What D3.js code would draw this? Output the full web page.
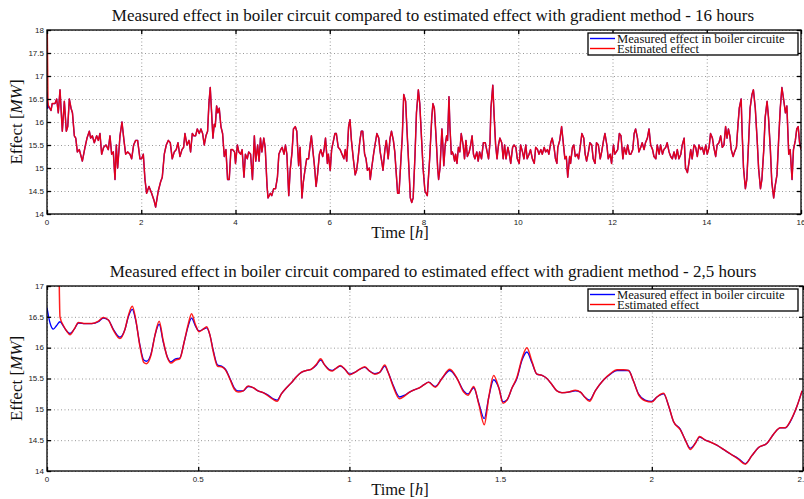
<!DOCTYPE html>
<html lang="en">
<meta charset="utf-8">
<head>
    <script src='https://d3js.org/d3.v7.min.js'></script>
</head>
<body style="margin:0;background:#fff">
<div id="chart"></div>

<style>
	svg text.tick-label {
	font: 8px "Liberation Sans", Arial, sans-serif;
	fill: #222;
	}
	svg text.serif {
	font-family: "Liberation Serif", "Times New Roman", serif;
	fill: #111;
	}
</style>

<script>
// 16 hour run: time [h] and measured effect [MW]
var topTime = [0, 0.015, 0.03, 0.085, 0.11, 0.17, 0.205, 0.24, 0.276, 0.325, 0.368, 0.41, 0.44, 0.474, 0.51, 0.54, 0.58, 0.61, 0.644, 0.686,
    0.75, 0.806, 0.849, 0.898, 0.926, 0.962, 1.004, 1.054, 1.089, 1.124, 1.16, 1.202, 1.252, 1.301, 1.336, 1.372, 1.407, 1.443, 1.471, 1.499,
    1.549, 1.591, 1.633, 1.669, 1.711, 1.761, 1.796, 1.838, 1.881, 1.923, 1.973, 2.008, 2.044, 2.079, 2.114, 2.164, 2.22, 2.27, 2.305, 2.361,
    2.411, 2.446, 2.489, 2.531, 2.574, 2.616, 2.658, 2.701, 2.743, 2.779, 2.821, 2.864, 2.899, 2.927, 2.97, 3.012, 3.047, 3.083, 3.118, 3.153,
    3.189, 3.231, 3.266, 3.302, 3.337, 3.373, 3.408, 3.436, 3.464, 3.493, 3.521, 3.549, 3.57, 3.599, 3.627, 3.655, 3.691, 3.726, 3.762, 3.797,
    3.832, 3.867, 3.903, 3.938, 3.98, 4.0, 4.04, 4.07, 4.11, 4.14, 4.18, 4.21, 4.25, 4.28, 4.32, 4.36, 4.40, 4.43, 4.47, 4.50,
    4.53, 4.56, 4.60, 4.63, 4.67, 4.69, 4.74, 4.77, 4.81, 4.85, 4.89, 4.92, 4.96, 4.99, 5.03, 5.06, 5.09, 5.13, 5.16, 5.20,
    5.23, 5.27, 5.30, 5.34, 5.37, 5.41, 5.44, 5.48, 5.51, 5.55, 5.59, 5.61, 5.64, 5.68, 5.71, 5.74, 5.78, 5.81, 5.85, 5.88,
    5.91, 5.95, 5.97, 6.01, 6.04, 6.08, 6.11, 6.14, 6.18, 6.22, 6.26, 6.30, 6.33, 6.36, 6.40, 6.43, 6.46, 6.50, 6.54, 6.57,
    6.60, 6.64, 6.67, 6.70, 6.74, 6.77, 6.80, 6.84, 6.86, 6.89, 6.93, 6.96, 7.00, 7.04, 7.07, 7.11, 7.13, 7.17, 7.20, 7.24,
    7.28, 7.31, 7.35, 7.38, 7.41, 7.44, 7.47, 7.50, 7.54, 7.57, 7.61, 7.64, 7.68, 7.71, 7.74, 7.77, 7.81, 7.84, 7.88, 7.91,
    7.95, 7.98, 8.02, 8.07, 8.12, 8.165, 8.19, 8.22, 8.26, 8.29, 8.31, 8.34, 8.38, 8.40, 8.42, 8.45, 8.48, 8.50, 8.53, 8.55,
    8.58, 8.60, 8.62, 8.65, 8.67, 8.70, 8.73, 8.76, 8.79, 8.83, 8.86, 8.89, 8.92, 8.96, 8.99, 9.02, 9.05, 9.08, 9.12, 9.15,
    9.18, 9.22, 9.26, 9.30, 9.33, 9.37, 9.40, 9.42, 9.46, 9.49, 9.52, 9.55, 9.58, 9.61, 9.65, 9.68, 9.71, 9.74, 9.78, 9.81,
    9.84, 9.88, 9.91, 9.95, 9.98, 10.02, 10.05, 10.09, 10.12, 10.16, 10.19, 10.23, 10.26, 10.30, 10.34, 10.37, 10.41, 10.44, 10.48, 10.51,
    10.55, 10.58, 10.62, 10.65, 10.69, 10.72, 10.76, 10.79, 10.82, 10.84, 10.88, 10.92, 10.95, 10.99, 11.02, 11.05, 11.09, 11.11, 11.15, 11.18,
    11.21, 11.25, 11.28, 11.32, 11.35, 11.39, 11.42, 11.45, 11.49, 11.52, 11.56, 11.59, 11.63, 11.66, 11.70, 11.74, 11.77, 11.81, 11.84, 11.88,
    11.91, 11.95, 11.98, 12.02, 12.05, 12.11, 12.145, 12.18, 12.22, 12.25, 12.29, 12.32, 12.36, 12.39, 12.43, 12.46, 12.49, 12.53, 12.56, 12.60,
    12.63, 12.67, 12.70, 12.74, 12.775, 12.81, 12.85, 12.88, 12.92, 12.95, 12.99, 13.02, 13.06, 13.09, 13.13, 13.16, 13.20, 13.235, 13.27, 13.305,
    13.34, 13.375, 13.41, 13.45, 13.48, 13.52, 13.55, 13.59, 13.62, 13.66, 13.69, 13.73, 13.765, 13.80, 13.835, 13.87, 13.905, 13.94, 13.98, 14.01,
    14.05, 14.08, 14.12, 14.15, 14.19, 14.22, 14.26, 14.295, 14.33, 14.365, 14.40, 14.43, 14.46, 14.49, 14.52, 14.56, 14.59, 14.63, 14.66, 14.69,
    14.73, 14.75, 14.78, 14.82, 14.85, 14.89, 14.92, 14.96, 14.99, 15.03, 15.07, 15.10, 15.14, 15.17, 15.21, 15.24, 15.28, 15.31, 15.35, 15.38,
    15.42, 15.45, 15.49, 15.525, 15.56, 15.595, 15.63, 15.67, 15.70, 15.74, 15.77, 15.81, 15.84, 15.88, 15.91, 15.94, 15.97, 16.0];
var topMeasured = [16.65, 16.3, 16.35, 16.25, 16.4, 16.4, 16.5, 16.2, 16.7, 15.8, 16.45, 15.8, 15.9, 16.5, 16.3, 16.2, 15.7, 15.65, 15.35, 15.4,
    15.15, 15.45, 15.65, 15.8, 15.65, 15.7, 15.55, 15.7, 15.6, 15.75, 15.3, 15.45, 15.5, 15.4, 15.7, 15.3, 15.35, 14.75, 15.5, 15.0,
    15.7, 16.0, 15.6, 15.3, 15.35, 15.3, 15.2, 15.5, 15.6, 15.6, 15.2, 15.2, 15.3, 14.75, 14.45, 14.6, 14.45, 14.3, 14.15, 14.5,
    14.7, 14.8, 15.3, 15.5, 15.6, 15.55, 15.2, 15.35, 15.4, 15.55, 15.25, 15.4, 15.45, 15.75, 15.5, 15.6, 15.35, 15.75, 15.7, 15.7,
    15.85, 15.75, 15.85, 15.75, 15.5, 15.7, 15.8, 16.4, 16.75, 16.2, 15.65, 15.95, 15.9, 16.35, 16.2, 16.3, 15.9, 15.75, 15.25, 15.4,
    14.75, 14.75, 15.4, 15.4, 15.35, 15.1, 15.5, 15.35, 15.3, 15.4, 14.8, 15.3, 15.2, 15.35, 15.3, 14.75, 15.7, 15.15, 15.5, 15.15,
    15.65, 15.35, 15.65, 15.45, 14.6, 14.35, 14.45, 14.4, 14.55, 14.55, 14.8, 15.3, 15.4, 15.45, 15.3, 15.5, 15.3, 14.4, 14.95, 15.35,
    15.85, 15.9, 15.8, 15.05, 15.45, 14.35, 14.7, 15.0, 15.2, 15.2, 15.55, 15.7, 15.4, 15.0, 14.6, 14.85, 15.3, 15.4, 15.25, 15.4,
    15.65, 15.1, 15.3, 14.95, 15.4, 15.6, 15.75, 15.75, 15.45, 15.4, 15.3, 15.2, 15.4, 15.15, 15.9, 16.05, 15.6, 15.2, 14.85, 14.95,
    15.2, 15.6, 15.8, 15.8, 15.3, 15.2, 14.95, 15.0, 14.75, 15.0, 15.3, 15.5, 15.75, 15.65, 15.35, 15.1, 14.95, 15.4, 15.6, 15.2,
    15.65, 15.8, 15.6, 15.35, 14.9, 14.45, 14.45, 15.0, 15.7, 16.6, 16.45, 15.8, 15.0, 14.35, 14.25, 14.35, 15.3, 16.2, 16.7, 16.4,
    15.6, 15.0, 14.5, 14.4, 15.2, 16.1, 16.4, 16.3, 15.6, 15.0, 14.75, 15.0, 15.85, 15.5, 15.05, 15.5, 15.7, 15.6, 16.55, 15.9,
    15.3, 15.35, 15.3, 15.15, 15.3, 15.1, 15.45, 15.35, 15.75, 15.5, 15.2, 15.6, 15.25, 15.35, 15.5, 15.7, 15.3, 15.2, 15.35, 15.15,
    15.35, 15.2, 15.55, 15.55, 15.4, 15.2, 15.55, 16.3, 16.8, 16.1, 15.5, 15.2, 15.5, 15.65, 15.55, 15.2, 15.5, 15.2, 15.45, 15.3,
    15.1, 15.45, 15.5, 15.45, 15.2, 15.1, 15.5, 15.35, 15.2, 15.5, 15.2, 15.3, 15.4, 15.2, 15.1, 15.45, 15.4, 15.3, 15.4, 15.3,
    15.45, 15.35, 15.4, 15.3, 15.55, 15.65, 15.45, 15.2, 15.1, 15.45, 15.6, 15.9, 15.6, 15.2, 15.25, 14.8, 15.25, 15.1, 15.45, 15.5,
    15.25, 15.3, 15.2, 15.5, 15.75, 15.65, 15.3, 15.15, 15.35, 15.55, 15.5, 15.2, 15.1, 15.55, 15.5, 15.2, 15.35, 15.6, 15.75, 15.5,
    15.2, 15.3, 15.1, 15.5, 15.3, 15.4, 15.75, 15.7, 15.2, 15.45, 15.3, 15.5, 15.3, 15.3, 15.4, 15.75, 15.85, 15.65, 15.35, 15.45,
    15.55, 15.4, 15.55, 15.65, 15.85, 15.5, 15.4, 15.25, 15.2, 15.5, 15.3, 15.5, 15.3, 15.4, 15.45, 15.55, 15.35, 15.25, 15.2, 15.35,
    15.2, 15.4, 15.2, 15.3, 15.5, 15.65, 15.0, 14.9, 15.1, 15.4, 15.2, 15.5, 15.45, 15.25, 15.5, 15.4, 15.45, 15.3, 15.5, 15.3,
    15.45, 15.75, 15.65, 15.45, 15.25, 15.5, 15.55, 15.7, 15.45, 15.5, 15.9, 15.65, 15.85, 15.7, 15.4, 15.25, 15.35, 15.45, 15.9, 16.3,
    16.5, 15.8, 15.0, 14.55, 14.75, 15.6, 16.3, 16.6, 16.7, 16.3, 15.6, 15.0, 14.55, 14.75, 15.4, 16.1, 16.45, 16.1, 15.4, 14.7,
    14.35, 14.6, 14.85, 15.6, 16.3, 16.75, 16.5, 16.2, 16.35, 15.3, 15.4, 14.75, 15.4, 15.6, 15.85, 15.9, 15.55, 15.4];
// estimated effect follows the measured one except for the start-up transient
var topEstStartTime = [0, 0.02];
var topEstStart = [18.6, 16.45];

// 2,5 hour run
var botTime = [0, 0.01, 0.021, 0.032, 0.043, 0.054, 0.065, 0.076, 0.09, 0.104, 0.126, 0.148, 0.17, 0.186, 0.203, 0.219, 0.241, 0.258, 0.269, 0.282,
    0.293, 0.307, 0.32, 0.329, 0.344, 0.357, 0.371, 0.384, 0.398, 0.41, 0.425, 0.439, 0.454, 0.467, 0.478, 0.491, 0.503, 0.517, 0.528, 0.539,
    0.55, 0.564, 0.577, 0.59, 0.605, 0.619, 0.632, 0.649, 0.665, 0.682, 0.698, 0.715, 0.731, 0.748, 0.761, 0.775, 0.792, 0.808, 0.825, 0.841,
    0.858, 0.874, 0.891, 0.905, 0.918, 0.932, 0.943, 0.957, 0.970, 0.985, 1.001, 1.018, 1.034, 1.051, 1.067, 1.084, 1.100, 1.117, 1.128, 1.144,
    1.166, 1.183, 1.199, 1.216, 1.232, 1.247, 1.262, 1.284, 1.306, 1.332, 1.356, 1.378, 1.392, 1.411, 1.428, 1.446, 1.461, 1.477, 1.494, 1.508,
    1.521, 1.538, 1.554, 1.571, 1.587, 1.604, 1.620, 1.637, 1.653, 1.670, 1.686, 1.703, 1.725, 1.747, 1.764, 1.778, 1.794, 1.813, 1.841, 1.863,
    1.885, 1.907, 1.923, 1.940, 1.956, 1.978, 2.000, 2.017, 2.039, 2.056, 2.072, 2.094, 2.111, 2.127, 2.144, 2.158, 2.177, 2.193, 2.215, 2.237,
    2.259, 2.287, 2.309, 2.331, 2.353, 2.381, 2.403, 2.425, 2.441, 2.458, 2.480, 2.497];
var botMeasured = [16.65, 16.4, 16.3, 16.36, 16.42, 16.35, 16.27, 16.23, 16.3, 16.4, 16.39, 16.39, 16.42, 16.48, 16.45, 16.3, 16.17, 16.3, 16.5, 16.62,
    16.45, 16.05, 15.8, 15.78, 15.9, 16.2, 16.38, 16.1, 15.85, 15.77, 15.82, 15.83, 16.1, 16.35, 16.48, 16.35, 16.27, 16.3, 16.32, 16.2,
    15.95, 15.72, 15.7, 15.65, 15.5, 15.35, 15.3, 15.3, 15.37, 15.35, 15.3, 15.27, 15.23, 15.17, 15.15, 15.25, 15.35, 15.43, 15.53, 15.6,
    15.63, 15.65, 15.72, 15.8, 15.72, 15.65, 15.63, 15.67, 15.7, 15.65, 15.57, 15.6, 15.65, 15.68, 15.62, 15.58, 15.6, 15.7, 15.6, 15.4,
    15.2, 15.23, 15.28, 15.32, 15.35, 15.4, 15.44, 15.37, 15.5, 15.63, 15.5, 15.3, 15.25, 15.35, 15.1, 14.85, 15.2, 15.48, 15.35, 15.12,
    15.15, 15.35, 15.5, 15.8, 15.93, 15.75, 15.57, 15.55, 15.5, 15.4, 15.3, 15.27, 15.28, 15.3, 15.28, 15.2, 15.15, 15.3, 15.48, 15.57,
    15.63, 15.63, 15.63, 15.45, 15.25, 15.15, 15.13, 15.2, 15.25, 15.05, 14.8, 14.68, 14.5, 14.37, 14.45, 14.55, 14.5, 14.47, 14.42, 14.35,
    14.28, 14.2, 14.12, 14.25, 14.38, 14.45, 14.6, 14.7, 14.7, 14.8, 15.05, 15.3];
var botEstimated = [20, 20, 20, 20, 16.5, 16.36, 16.27, 16.21, 16.3, 16.41, 16.39, 16.39, 16.43, 16.49, 16.45, 16.29, 16.15, 16.3, 16.52, 16.67,
    16.47, 16.03, 15.76, 15.74, 15.88, 16.2, 16.43, 16.12, 15.84, 15.75, 15.8, 15.82, 16.1, 16.38, 16.55, 16.37, 16.26, 16.3, 16.34, 16.2,
    15.93, 15.7, 15.69, 15.64, 15.49, 15.33, 15.28, 15.3, 15.38, 15.35, 15.3, 15.27, 15.22, 15.16, 15.13, 15.25, 15.35, 15.43, 15.53, 15.6,
    15.63, 15.65, 15.73, 15.82, 15.72, 15.64, 15.62, 15.67, 15.71, 15.65, 15.56, 15.6, 15.65, 15.69, 15.62, 15.57, 15.6, 15.72, 15.6, 15.38,
    15.17, 15.22, 15.28, 15.32, 15.35, 15.4, 15.44, 15.36, 15.5, 15.65, 15.5, 15.28, 15.23, 15.37, 15.08, 14.75, 15.2, 15.55, 15.35, 15.1,
    15.15, 15.35, 15.52, 15.83, 16.0, 15.77, 15.57, 15.55, 15.5, 15.4, 15.3, 15.27, 15.28, 15.31, 15.28, 15.2, 15.13, 15.3, 15.48, 15.58,
    15.64, 15.64, 15.63, 15.45, 15.24, 15.14, 15.12, 15.2, 15.26, 15.05, 14.8, 14.67, 14.5, 14.35, 14.45, 14.56, 14.5, 14.47, 14.42, 14.35,
    14.28, 14.19, 14.11, 14.25, 14.38, 14.45, 14.6, 14.7, 14.7, 14.81, 15.05, 15.3];

var topXTicks = [0, 2, 4, 6, 8, 10, 12, 14, 16];
var topYTicks = [14, 14.5, 15, 15.5, 16, 16.5, 17, 17.5, 18];
var botXTicks = [0, 0.5, 1, 1.5, 2, 2.5];
var botYTicks = [14, 14.5, 15, 15.5, 16, 16.5, 17];
var seriesNames = ["Measured effect in boiler circuite", "Estimated effect"];
var seriesColors = ["#0000ff", "#ff0000"];

var svg = d3.select("#chart")
    .append("svg")
    .attr("width", 804)
    .attr("height", 499);

var topEstPoints = d3.zip(topEstStartTime, topEstStart)
    .concat(d3.zip(topTime, topMeasured).filter(function(d) { return d[0] >= 0.03; }));

drawPanel({
    id: "top", left: 47, right: 801, top: 30, bottom: 214,
    xDomain: [0, 16], yDomain: [14, 18], xTicks: topXTicks, yTicks: topYTicks,
    series: [d3.zip(topTime, topMeasured), topEstPoints],
    curve: d3.curveLinear,
    title: "Measured effect in boiler circuit compared to estimated effect with gradient method - 16 hours"
});
drawPanel({
    id: "bot", left: 47, right: 803, top: 286, bottom: 471,
    xDomain: [0, 2.5], yDomain: [14, 17], xTicks: botXTicks, yTicks: botYTicks,
    series: [d3.zip(botTime, botMeasured), d3.zip(botTime, botEstimated)],
    curve: d3.curveMonotoneX,
    title: "Measured effect in boiler circuit compared to estimated effect with gradient method - 2,5 hours"
});

function drawPanel(c) {
    var x = d3.scaleLinear().domain(c.xDomain).range([c.left, c.right]);
    var y = d3.scaleLinear().domain(c.yDomain).range([c.bottom, c.top]);
    var w = c.right - c.left, h = c.bottom - c.top;
    var g = svg.append("g");

    g.append("clipPath").attr("id", "clip-" + c.id)
        .append("rect").attr("x", c.left).attr("y", c.top).attr("width", w).attr("height", h);

    // dotted grid
    g.append("g").attr("transform", "translate(0," + c.bottom + ")")
        .call(d3.axisBottom(x).tickValues(c.xTicks).tickSize(-h).tickFormat(""))
        .call(function(a) { a.select(".domain").remove(); })
        .selectAll("line").attr("stroke", "#999").attr("stroke-dasharray", "1,2.5");
    g.append("g").attr("transform", "translate(" + c.left + ",0)")
        .call(d3.axisLeft(y).tickValues(c.yTicks).tickSize(-w).tickFormat(""))
        .call(function(a) { a.select(".domain").remove(); })
        .selectAll("line").attr("stroke", "#999").attr("stroke-dasharray", "1,2.5");

    // curves
    var line = d3.line()
        .x(function(d) { return x(d[0]); })
        .y(function(d) { return y(d[1]); })
        .curve(c.curve);
    g.append("g").attr("clip-path", "url(#clip-" + c.id + ")")
        .selectAll("path")
        .data(c.series)
        .enter()
        .append("path")
        .attr("d", line)
        .attr("fill", "none")
        .attr("stroke", function(d, i) { return seriesColors[i]; })
        .attr("stroke-opacity", function(d, i) { return i == 1 ? 0.88 : 1; })
        .attr("stroke-width", function(d, i) { return i == 1 ? 1.5 : 1.3; })
        .attr("stroke-linejoin", "round");

    // inward ticks on all four sides
    var tl = 4;
    [
        [d3.axisBottom(x).tickValues(c.xTicks), "translate(0," + c.bottom + ")"],
        [d3.axisTop(x).tickValues(c.xTicks), "translate(0," + c.top + ")"],
        [d3.axisLeft(y).tickValues(c.yTicks), "translate(" + c.left + ",0)"],
        [d3.axisRight(y).tickValues(c.yTicks), "translate(" + c.right + ",0)"]
    ].forEach(function(a) {
        g.append("g").attr("transform", a[1])
            .call(a[0].tickSize(-tl).tickFormat(""))
            .call(function(s) { s.select(".domain").remove(); })
            .selectAll("line").attr("stroke", "#000").attr("stroke-width", 1.3);
    });

    g.append("rect")
        .attr("x", c.left).attr("y", c.top).attr("width", w).attr("height", h)
        .attr("fill", "none").attr("stroke", "#000").attr("stroke-width", 1.3);

    // tick labels
    g.selectAll("text.xl").data(c.xTicks).enter().append("text")
        .attr("class", "tick-label")
        .attr("x", function(d) { return x(d); })
        .attr("y", c.bottom + 11)
        .attr("text-anchor", "middle")
        .text(function(d) { return d; });
    g.selectAll("text.yl").data(c.yTicks).enter().append("text")
        .attr("class", "tick-label")
        .attr("x", c.left - 3)
        .attr("y", function(d) { return y(d); })
        .attr("dy", "0.35em")
        .attr("text-anchor", "end")
        .text(function(d) { return d; });

    // title and axis labels
    g.append("text").attr("class", "serif")
        .attr("x", 433).attr("y", c.top - 9)
        .attr("text-anchor", "middle")
        .style("font-size", "17px")
        .text(c.title);

    var xl = g.append("text").attr("class", "serif")
        .attr("x", 400).attr("y", c.bottom + 24)
        .attr("text-anchor", "middle")
        .style("font-size", "16.5px");
    xl.append("tspan").text("Time [");
    xl.append("tspan").style("font-style", "italic").text("h");
    xl.append("tspan").text("]");

    var yl = g.append("text").attr("class", "serif")
        .attr("transform", "translate(22," + (c.top + h / 2) + ") rotate(-90)")
        .attr("text-anchor", "middle")
        .style("font-size", "17px");
    yl.append("tspan").text("Effect [");
    yl.append("tspan").style("font-style", "italic").text("MW");
    yl.append("tspan").text("]");

    // legend
    var lg = g.append("g").attr("transform", "translate(588," + (c.top + 3) + ")");
    lg.append("rect").attr("width", 210).attr("height", 22)
        .attr("fill", "#fff").attr("stroke", "#000").attr("stroke-width", 1.3);
    seriesNames.forEach(function(name, i) {
        lg.append("line")
            .attr("x1", 2).attr("x2", 27)
            .attr("y1", 5.5 + i * 10).attr("y2", 5.5 + i * 10)
            .attr("stroke", seriesColors[i]).attr("stroke-width", 1.4);
        lg.append("text").attr("class", "serif")
            .attr("x", 29).attr("y", 9.5 + i * 10)
            .style("font-size", "12.6px")
            .text(name);
    });
}
</script>
</html>
